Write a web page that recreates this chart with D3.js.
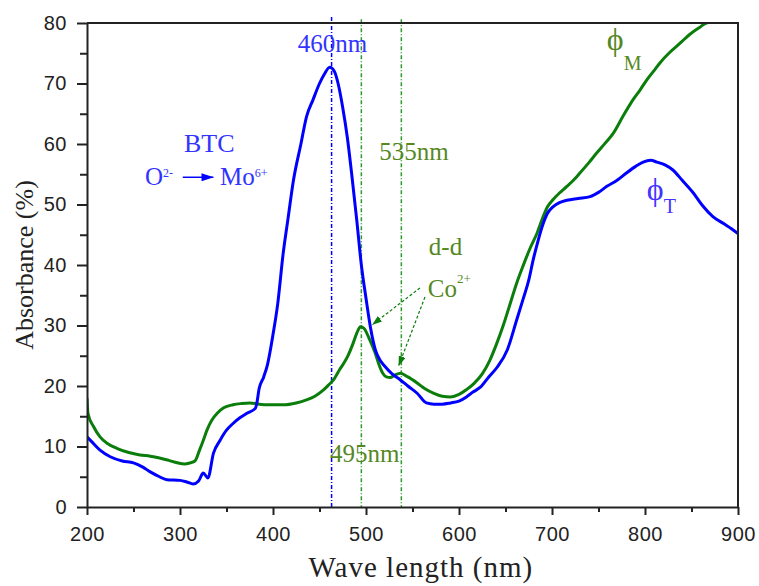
<!DOCTYPE html>
<html>
<head>
<meta charset="utf-8">
<script src="https://cdn.jsdelivr.net/npm/d3@7"></script>
<style>
  body { margin: 0; background: #fff; }
  svg text { font-family: "Liberation Serif", "Times New Roman", serif; }
  .tick text { font-family: "Liberation Sans", Arial, sans-serif; }
</style>
</head>
<body>
<div id="chart"></div>
<script>
// Spectrum phi_T (blue): wavelength (nm) / absorbance (%)
const waveT = [200, 205, 214, 225, 238, 250, 260, 268, 278, 286, 300, 308, 314, 320, 325, 330, 336, 343, 350, 357,
  364, 372, 381, 383, 385, 390, 394, 400, 405, 411, 416, 422, 430, 436, 443, 450, 455, 461, 466, 470,
  475, 480, 485, 490, 495, 500, 505, 510, 515, 520, 528, 537, 545, 555, 565, 573, 582, 591, 600, 608,
  615, 623, 632, 641, 652, 662, 669, 675, 680, 685, 690, 695, 701, 708, 716, 728, 741, 750, 759, 770,
  780, 790, 798, 806, 813, 822, 830, 840, 852, 862, 873, 885, 893, 900];
const absT = [11.6, 10.8, 9.4, 8.3, 7.6, 7.3, 6.6, 5.8, 5.0, 4.5, 4.4, 4.1, 3.8, 4.3, 5.6, 4.8, 8.9, 11.0, 12.7, 13.8,
  14.7, 15.5, 16.3, 17.5, 19.5, 21.5, 23.5, 28.5, 33.5, 42, 47.5, 54, 60, 64.5, 67.3, 70, 71.5, 72.7, 72, 70,
  66, 61, 54.5, 47.5, 40, 34.5, 29.5, 26, 24.3, 23.3, 22, 21, 20, 18.8, 17.2, 17, 17, 17.2, 17.5, 18.2,
  19, 19.8, 21.5, 23.1, 26, 30.9, 34.4, 37.5, 41, 44, 46.6, 48.5, 49.6, 50.3, 50.7, 51, 51.3, 52, 53, 54,
  55.2, 56.3, 57, 57.3, 57, 56.5, 55.7, 54, 51.9, 49.8, 48, 46.8, 46, 45.2];

// Spectrum phi_M (green)
const waveM = [200, 201, 207, 214, 222, 232, 245, 257, 268, 278, 288, 297, 305, 311, 316, 321, 325, 329, 334, 340,
  347, 357, 366, 375, 385, 395, 411, 425, 436, 445, 454, 460, 465, 472, 480, 486, 490, 494, 498, 503,
  510, 514, 518, 522, 526, 531, 537, 545, 555, 563, 573, 582, 591, 600, 608, 616, 625, 633, 640, 648,
  655, 662, 669, 676, 684, 690, 695, 701, 708, 716, 723, 730, 739, 748, 757, 766, 776, 787, 795, 802,
  809, 816, 827, 838, 848, 859, 866, 878];
const absM = [18, 15.5, 13.3, 11.6, 10.5, 9.7, 9.0, 8.6, 8.4, 8.1, 7.7, 7.3, 7.1, 7.3, 7.6, 9.4, 11, 12.7, 14.3, 15.5,
  16.4, 16.9, 17.1, 17.2, 17, 16.9, 16.9, 17.2, 17.7, 18.3, 19.3, 20.2, 21, 22.8, 24.8, 27, 28.7, 29.8, 29.5, 28,
  25.4, 23.5, 22.1, 21.5, 21.4, 21.8, 22.1, 21.5, 20.5, 19.6, 18.8, 18.3, 18.2, 18.6, 19.4, 20.4, 22, 24.2, 26.8, 30.2,
  33.6, 37, 39.9, 42.6, 45.3, 47.8, 49.6, 50.8, 51.9, 53, 54, 55.2, 56.8, 58.5, 60.1, 61.8, 64.5, 67.3, 69, 70.6,
  72, 73.4, 75.2, 76.7, 78.1, 79.3, 80, 80.2];

const xTicks = [200, 300, 400, 500, 600, 700, 800, 900];
const xMinor = [250, 350, 450, 550, 650, 750, 850];
const yTicks = [0, 10, 20, 30, 40, 50, 60, 70, 80];
const yMinor = [5, 15, 25, 35, 45, 55, 65, 75];

// peak marker lines (nm) as drawn in the figure
const blueMarks = [463];
const greenMarks = [495, 538];

const blue = "#0000ff";
const green = "#0b7d0b";
const blueText = "#3333ff";
const greenText = "#55881f";

const margin = { top: 23, right: 21, bottom: 79, left: 87 };
const width = 759 - margin.left - margin.right;
const height = 586 - margin.top - margin.bottom;

const x = d3.scaleLinear().domain([200, 900]).range([0, width]);
const y = d3.scaleLinear().domain([0, 80]).range([height, 0]);

const svg = d3.select("#chart")
  .append("svg")
  .attr("width", 759)
  .attr("height", 586)
  .append("g")
  .attr("transform", `translate(${margin.left},${margin.top})`);

svg.append("clipPath").attr("id", "clip")
  .append("rect").attr("width", width).attr("height", height);

const defs = svg.append("defs");
function arrowHead(id, color, w, h) {
  defs.append("marker")
    .attr("id", id)
    .attr("viewBox", `0 0 ${w} ${h}`)
    .attr("refX", w).attr("refY", h / 2)
    .attr("markerWidth", w).attr("markerHeight", h)
    .attr("markerUnits", "userSpaceOnUse")
    .attr("orient", "auto")
    .append("path")
    .attr("d", `M0,0L${w},${h / 2}L0,${h}Z`)
    .attr("fill", color);
}
arrowHead("arrowBlue", blue, 12, 8);
arrowHead("arrowGreen", green, 10, 7);

// dash-dot peak lines
svg.selectAll(".blueMark")
  .data(blueMarks)
  .join("line")
  .attr("x1", d => x(d)).attr("x2", d => x(d))
  .attr("y1", y(81)).attr("y2", y(0))
  .attr("stroke", blue)
  .attr("stroke-width", 1.5)
  .attr("stroke-dasharray", "4,2,1,2");

svg.selectAll(".greenMark")
  .data(greenMarks)
  .join("line")
  .attr("x1", d => x(d)).attr("x2", d => x(d))
  .attr("y1", y(80.6)).attr("y2", y(0))
  .attr("stroke", "#2e9a2e")
  .attr("stroke-width", 1.5)
  .attr("stroke-dasharray", "4,2,1,2");

// spectra
const line = d3.line()
  .x(d => x(d[0]))
  .y(d => y(d[1]))
  .curve(d3.curveMonotoneX);

svg.append("path")
  .datum(d3.zip(waveM, absM))
  .attr("clip-path", "url(#clip)")
  .attr("fill", "none")
  .attr("stroke", green)
  .attr("stroke-width", 3)
  .attr("d", line);

svg.append("path")
  .datum(d3.zip(waveT, absT))
  .attr("clip-path", "url(#clip)")
  .attr("fill", "none")
  .attr("stroke", blue)
  .attr("stroke-width", 3)
  .attr("d", line);

// axes
svg.append("g")
  .attr("transform", `translate(0,${height})`)
  .call(d3.axisBottom(x).tickValues(xTicks).tickSize(8).tickPadding(12).tickSizeOuter(0));
svg.append("g")
  .attr("transform", `translate(0,${height})`)
  .call(d3.axisBottom(x).tickValues(xMinor).tickSize(5).tickFormat("").tickSizeOuter(0))
  .call(g => g.select(".domain").remove());

svg.append("g")
  .call(d3.axisLeft(y).tickValues(yTicks).tickSize(10).tickPadding(10).tickSizeOuter(0));
svg.append("g")
  .call(d3.axisLeft(y).tickValues(yMinor).tickSize(7).tickFormat("").tickSizeOuter(0))
  .call(g => g.select(".domain").remove());

svg.selectAll(".domain").attr("stroke", "#222").attr("stroke-width", 2);
svg.selectAll(".tick line").attr("stroke", "#222").attr("stroke-width", 2);
svg.selectAll(".tick text")
  .style("font-size", "20px")
  .style("letter-spacing", "0.5px")
  .attr("fill", "#222");

// top and right frame
svg.append("path")
  .attr("d", `M0,0H${width}V${height}`)
  .attr("fill", "none")
  .attr("stroke", "#222")
  .attr("stroke-width", 2);

// axis titles
svg.append("text")
  .attr("x", x(559))
  .attr("y", height + 70)
  .attr("text-anchor", "middle")
  .style("font-size", "29px")
  .style("letter-spacing", "1px")
  .attr("fill", "#222")
  .text("Wave length (nm)");

svg.append("text")
  .attr("transform", `translate(${-54},${y(40)}) rotate(-90)`)
  .attr("text-anchor", "middle")
  .style("font-size", "26px")
  .attr("fill", "#222")
  .text("Absorbance (%)");

// annotations
function label(nm, val, txt, color, size, anchor) {
  return svg.append("text")
    .attr("x", x(nm)).attr("y", y(val))
    .attr("text-anchor", anchor || "middle")
    .style("font-size", size + "px")
    .attr("fill", color)
    .text(txt);
}

label(464, 75.2, "460nm", blueText, 25);
label(551.5, 57.4, "535nm", greenText, 25);
label(498.5, 7.4, "495nm", greenText, 25);
label(331.5, 58.7, "BTC", blueText, 26);

const o = label(262.4, 53.2, "O", blueText, 25, "start");
o.append("tspan").attr("dy", -8).style("font-size", "12px").text("2-");
const mo = label(343, 53.2, "Mo", blueText, 25, "start");
mo.append("tspan").attr("dy", -8).style("font-size", "12px").text("6+");

svg.append("line")
  .attr("x1", x(303)).attr("y1", y(54.5))
  .attr("x2", x(336)).attr("y2", y(54.5))
  .attr("stroke", blue)
  .attr("stroke-width", 1.5)
  .attr("marker-end", "url(#arrowBlue)");

label(585.5, 41.6, "d-d", greenText, 25);
const co = label(566.5, 34.7, "Co", greenText, 25, "start");
co.append("tspan").attr("dy", -14).style("font-size", "13px").text("2+");

const coArrows = [
  { from: [558, 36.2], to: [506.5, 30.1] },
  { from: [563.4, 34.7], to: [535, 23.3] }
];
svg.selectAll(".coArrow")
  .data(coArrows)
  .join("line")
  .attr("x1", d => x(d.from[0])).attr("y1", d => y(d.from[1]))
  .attr("x2", d => x(d.to[0])).attr("y2", d => y(d.to[1]))
  .attr("stroke", green)
  .attr("stroke-width", 1.2)
  .attr("stroke-dasharray", "3,2")
  .attr("marker-end", "url(#arrowGreen)");

const phiM = label(759, 75.5, "\u03D5", greenText, 32, "start");
phiM.append("tspan").attr("dy", 20).style("font-size", "20px").text("M");
const phiT = label(802, 50.8, "\u03D5", "#4433ff", 32, "start");
phiT.append("tspan").attr("dy", 13).style("font-size", "20px").text("T");
</script>
</body>
</html>
